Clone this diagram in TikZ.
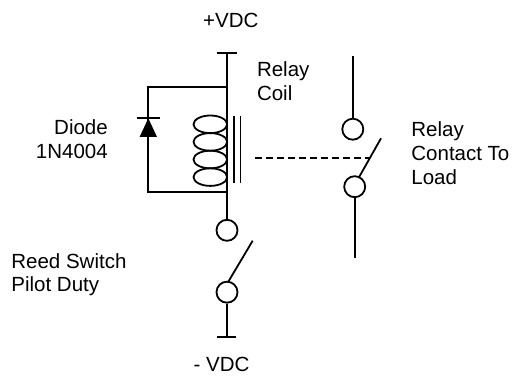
\documentclass[tikz,border=0pt]{standalone}
\usepackage{fontspec}
\setmainfont{Liberation Sans}
\begin{document}
\begin{tikzpicture}[x=1pt,y=-1pt,
  wire/.style={line width=1.8pt},
  term/.style={circle,draw,line width=1.8pt,minimum size=21pt,inner sep=0pt,fill=white},
  coilturn/.style={line width=1.8pt},
  lbl/.style={inner sep=0pt,font=\fontsize{20.5}{23.6}\selectfont},
  linkdash/.style={line width=1.8pt,dash pattern=on 7pt off 4pt},
  ]
\useasboundingbox (0,0) rectangle (519,375);

% terminals
\node[term] (c1) at (352.8,129.2) {};
\node[term] (c2) at (354.7,186.7) {};
\node[term] (c3) at (227,230.3) {};
\node[term] (c4) at (227,292.2) {};

% coordinates
\coordinate (vtop) at (227,52.7);
\coordinate (tkTL) at (216.5,52.7);
\coordinate (tkTR) at (236.5,52.7);
\coordinate (vbot) at (227,337.3);
\coordinate (tkBL) at (216.7,337.3);
\coordinate (tkBR) at (235.5,337.3);
\coordinate (jT) at (227,86.7);
\coordinate (jB) at (227,192.3);
\coordinate (dT) at (148.3,86.7);
\coordinate (dB) at (148.3,192.3);
\coordinate (rtop) at (352.8,56);
\coordinate (rbot) at (354.7,258.3);
\coordinate (bl1a) at (381,138.3);
\coordinate (bl1b) at (359.3,176.7);
\coordinate (bl2a) at (252.7,240.7);
\coordinate (bl2b) at (228.3,281.7);
\coordinate (dashS) at (255,158.3);
\coordinate (dashE) at (369.7,158.3);

% supply wiring
\draw[wire] (tkTL) -- (tkTR);
\draw[wire] (vtop) -- (c3);
\draw[wire] (jT) -- (dT) -- (dB) -- (jB);
\draw[wire] (c4) -- (vbot);
\draw[wire] (tkBL) -- (tkBR);
\draw[wire] (bl2a) -- (bl2b);

% diode
\draw[wire] (137,118.3) -- (159.5,118.3);
\fill (148.3,118.3) -- (139.6,136.9) -- (157,136.9) -- cycle;

% coil
\foreach \cy in {124.3,141.9,159.5,177.1}
  \draw[coilturn] (210.3,\cy) ellipse [x radius=16.8, y radius=8.8];
\draw[wire] (234,116) -- (234,183.3);
\draw[wire] (240.5,116) -- (240.5,183.3);

% relay contact
\draw[wire] (rtop) -- (c1);
\draw[wire] (c2) -- (rbot);
\draw[wire] (bl1a) -- (bl1b);
\draw[linkdash] (dashS) -- (dashE);

% labels (base anchor = baseline of last line)
\node[lbl,anchor=base] (pv) at (230.8,27) {+VDC};
\node[lbl,anchor=base] (nv) at (221.5,371.3) {- VDC};
\node[lbl,anchor=base west,align=left] (rc) at (256.8,100) {Relay\\Coil};
\node[lbl,anchor=base west,align=left] (rct) at (411.2,184) {Relay\\Contact To\\Load};
\node[lbl,anchor=base east,align=right] (dd) at (108,158.3) {Diode\\1N4004};
\node[lbl,anchor=base west,align=left] (rs) at (11.2,291.7) {Reed Switch\\Pilot Duty};
\end{tikzpicture}
\end{document}
